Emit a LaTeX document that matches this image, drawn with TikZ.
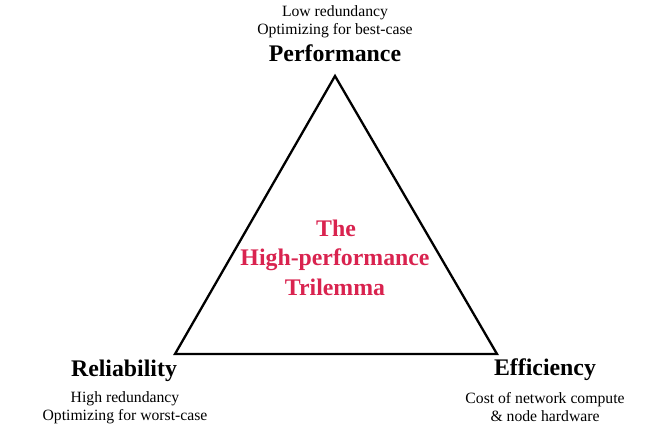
\documentclass[tikz,border=0pt]{standalone}
\usepackage{fontspec}
\setmainfont{Liberation Serif}
\definecolor{trired}{HTML}{D9234F}
\begin{document}
\begin{tikzpicture}[x=1pt,y=-1pt,
  head/.style={font=\fontsize{23.8}{26}\selectfont\bfseries, inner sep=0pt, anchor=base},
  sub/.style={font=\fontsize{15.7}{18}\selectfont, inner sep=0pt, anchor=base},
  title/.style={font=\fontsize{23.8}{29}\selectfont\bfseries, text=trired, inner sep=0pt, anchor=base}]
\useasboundingbox (0,0) rectangle (645,430);
\coordinate (top) at (335,76);
\coordinate (bl) at (175,354);
\coordinate (br) at (497,354);
\draw[line width=2.3pt, line join=miter] (top) -- (br) -- (bl) -- cycle;
\node[sub] (psub1) at (335,17) {Low redundancy};
\node[sub] (psub2) at (335,35) {Optimizing for best-case};
\node[head] (perf) at (335,62) {Performance};
\node[head] (rel) at (124,376) {Reliability};
\node[sub] (rsub1) at (125,402) {High redundancy};
\node[sub] (rsub2) at (125,420) {Optimizing for worst-case};
\node[head] (eff) at (545,375) {Efficiency};
\node[sub] (esub1) at (545,403) {Cost of network compute};
\node[sub] (esub2) at (545,421) {\& node hardware};
\node[title] (tri1) at (336,237) {The};
\node[title] (tri2) at (335,266) {High-performance};
\node[title] (tri3) at (335,295) {Trilemma};
\end{tikzpicture}
\end{document}
